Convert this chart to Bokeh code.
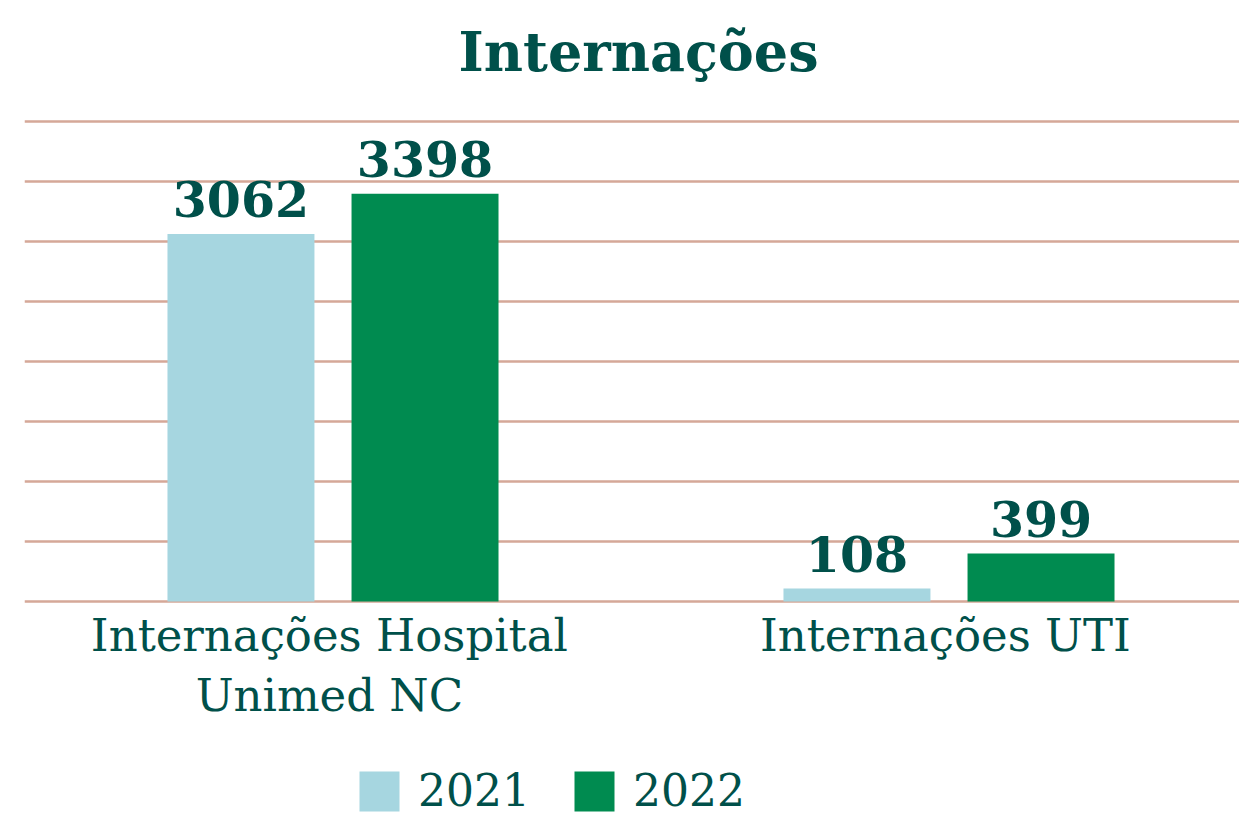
from bokeh.plotting import figure
from bokeh.models import FactorRange, Range1d, ColumnDataSource, Legend, LegendItem, FixedTicker, Label
from bokeh.transform import dodge
from bokeh.core.properties import value
from bokeh.embed import file_html
from bokeh.resources import INLINE

title = "Internações"
categories = ["Internações Hospital\nUnimed NC", "Internações UTI"]
years = ["2021", "2022"]
values_2021 = [3062, 108]
values_2022 = [3398, 399]
y_ticks = [0, 500, 1000, 1500, 2000, 2500, 3000, 3500, 4000]

TEXT = "#00504a"
C2021 = "#a6d6e0"
C2022 = "#008b50"
GRID = "#d5a898"
FONT = "DejaVu Serif"

src = ColumnDataSource(dict(
    cat=categories,
    v2021=values_2021,
    v2022=values_2022,
    l2021=[str(v) for v in values_2021],
    l2022=[str(v) for v in values_2022],
))

p = figure(
    width=1239, height=816,
    x_range=FactorRange(*categories, range_padding=-0.0138, range_padding_units="absolute"),
    y_range=Range1d(-1792, 5008),
    output_backend="svg", toolbar_location=None,
    min_border_left=24, min_border_right=0, min_border_top=0, min_border_bottom=0,
)
p.outline_line_color = None
p.xaxis.visible = False
p.yaxis.visible = False
p.xgrid.grid_line_color = None
p.ygrid.ticker = FixedTicker(ticks=y_ticks)
p.ygrid.grid_line_color = GRID
p.ygrid.grid_line_width = 2.5

shift = 0.0146
off = 0.1494
bw = 0.2386
r1 = p.vbar(x=dodge("cat", shift - off, range=p.x_range), top="v2021", width=bw, source=src,
            fill_color=C2021, line_color=None)
r2 = p.vbar(x=dodge("cat", shift + off, range=p.x_range), top="v2022", width=bw, source=src,
            fill_color=C2022, line_color=None)

for xo, col in ((shift - off, "l2021"), (shift + off, "l2022")):
    vcol = "v" + col[1:]
    p.text(x=dodge("cat", xo, range=p.x_range), y=vcol, text=col, source=src,
           y_offset=-17, text_align="center", text_baseline="bottom",
           text_font=value(FONT), text_font_style="bold", text_font_size="49px",
           text_color=TEXT)

# category labels below the baseline
p.text(x=dodge("cat", shift * 0.6, range=p.x_range), y=0, text="cat", source=src, y_offset=8,
       text_align="center", text_baseline="top", text_line_height=1.12,
       text_font=value(FONT), text_font_size="45px", text_color=TEXT)

p.add_layout(Label(x=614, y=765, x_units="screen", y_units="screen", text=title,
                   text_align="center", text_baseline="alphabetic",
                   text_font=FONT, text_font_style="bold", text_font_size="54px",
                   text_color=TEXT))

legend = Legend(items=[LegendItem(label=years[0], renderers=[r1]),
                       LegendItem(label=years[1], renderers=[r2])],
                orientation="horizontal", location=(330, 0))
legend.padding = 0
legend.margin = 0
legend.border_line_color = None
legend.background_fill_alpha = 0
legend.glyph_width = 50
legend.glyph_height = 50
legend.label_standoff = 14
legend.spacing = 39
legend.label_text_font = FONT
legend.label_text_font_size = "44px"
legend.label_text_color = TEXT
legend.label_height = 50
p.add_layout(legend, "center")

open("out.html", "w").write(file_html(p, INLINE))
